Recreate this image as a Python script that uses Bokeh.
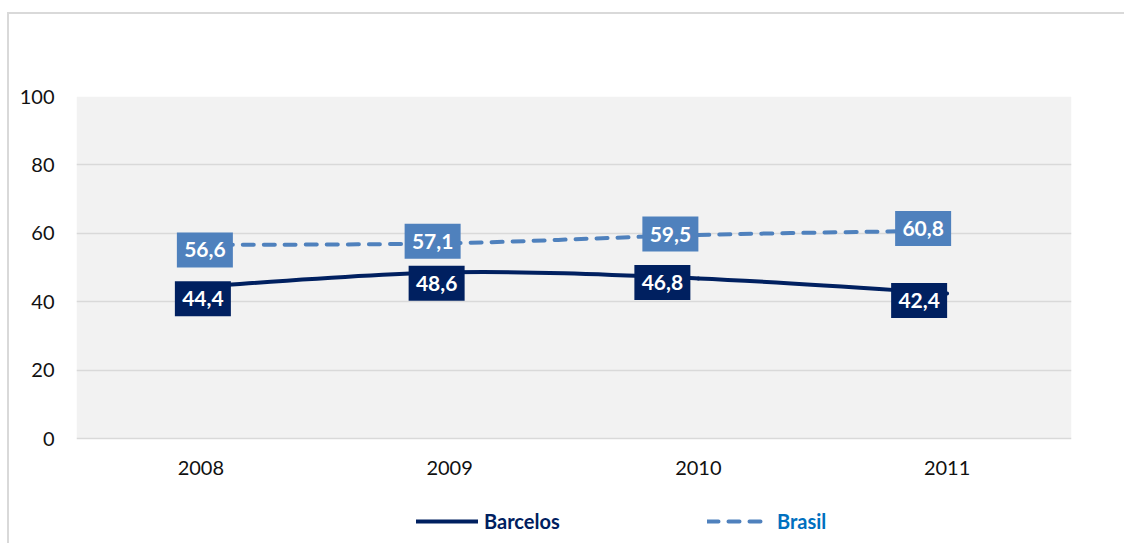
from bokeh.plotting import figure
from bokeh.models import (Range1d, FixedTicker, Legend, LegendItem, ColumnDataSource)
from bokeh.core.properties import value
from bokeh.embed import file_html
from bokeh.resources import INLINE

# ---- data ----
years = ["2008", "2009", "2010", "2011"]
barcelos = [44.4, 48.6, 46.8, 42.4]
brasil = [56.6, 57.1, 59.5, 60.8]
y_ticks = [0, 20, 40, 60, 80, 100]

# ---- styles / layout ----
C_BARC = "#002060"
C_BRAS = "#4F81BD"
C_BRAS_TXT = "#0070C0"
FONT = "Lato"
FRAME_W = 995
PLOT_H = 342          # pixel height of the 0..100 band
FRAME_H = 447         # frame extends down to hold axis labels and legend
px_x = FRAME_W / len(years)
px_y = PLOT_H / 100.0
y_lo = -(FRAME_H - PLOT_H) / px_y
# label offsets in screen px (right, down)
bras_dx = [4, -17, -28, -24]
bras_dy = [5, -2, -1, -2]
barc_dx = [2, -13, -36, -28]
barc_dy = [12, 11, 4, 7]

xs = [i + 0.5 for i in range(len(years))]

p = figure(frame_width=FRAME_W, frame_height=FRAME_H,
           x_range=Range1d(0, len(years)), y_range=Range1d(y_lo, 100),
           output_backend="svg", toolbar_location=None,
           min_border_left=67, min_border_right=53,
           min_border_top=82, min_border_bottom=0)
p.margin = (12, 0, 0, 7)
p.styles = {"border-top": "2px solid #D9D9D9", "border-left": "2px solid #D9D9D9"}
p.background_fill_color = "white"
p.border_fill_color = "white"
p.outline_line_color = None

# gray plot band
p.quad(left=[0], right=[len(years)], bottom=[y_ticks[0]], top=[y_ticks[-1]],
       fill_color="#F2F2F2", line_color=None, level="image")

p.xgrid.grid_line_color = None
p.ygrid.ticker = FixedTicker(ticks=y_ticks)
p.ygrid.grid_line_color = "#D9D9D9"
p.ygrid.grid_line_width = 1.5

p.yaxis.ticker = FixedTicker(ticks=y_ticks)
p.xaxis.ticker = FixedTicker(ticks=xs)
p.xaxis.major_label_overrides = {x: y for x, y in zip(xs, years)}
p.xaxis.fixed_location = 0
for ax in (p.xaxis, p.yaxis):
    ax.axis_line_color = None
    ax.major_tick_line_color = None
    ax.minor_tick_line_color = None
    ax.major_tick_in = 0
    ax.major_tick_out = 0
    ax.major_label_text_font = FONT
    ax.major_label_text_font_size = "20px"
    ax.major_label_text_color = "#111111"
p.yaxis.major_label_standoff = 22
p.xaxis.major_label_standoff = 22


def bezier_segments(xv, yv):
    n = len(xv)
    seg = dict(x0=[], y0=[], x1=[], y1=[], cx0=[], cy0=[], cx1=[], cy1=[])
    for i in range(n - 1):
        ip = max(i - 1, 0)
        i2 = min(i + 2, n - 1)
        seg["x0"].append(xv[i]); seg["y0"].append(yv[i])
        seg["x1"].append(xv[i + 1]); seg["y1"].append(yv[i + 1])
        seg["cx0"].append(xv[i] + (xv[i + 1] - xv[ip]) / 6)
        seg["cy0"].append(yv[i] + (yv[i + 1] - yv[ip]) / 6)
        seg["cx1"].append(xv[i + 1] - (xv[i2] - xv[i]) / 6)
        seg["cy1"].append(yv[i + 1] - (yv[i2] - yv[i]) / 6)
    return ColumnDataSource(seg)


p.bezier(x0="x0", y0="y0", x1="x1", y1="y1", cx0="cx0", cy0="cy0", cx1="cx1", cy1="cy1",
         source=bezier_segments(xs, brasil), line_color=C_BRAS, line_width=4,
         line_dash="11 10", line_cap="round")
p.bezier(x0="x0", y0="y0", x1="x1", y1="y1", cx0="cx0", cy0="cy0", cx1="cx1", cy1="cy1",
         source=bezier_segments(xs, barcelos), line_color=C_BARC, line_width=4,
         line_cap="round")


def labels(vals, dxs, dys, color):
    lx = [x + dx / px_x for x, dx in zip(xs, dxs)]
    ly = [v - dy / px_y for v, dy in zip(vals, dys)]
    txt = [f"{v:.1f}".replace(".", ",") for v in vals]
    src = ColumnDataSource(dict(x=lx, y=ly, t=txt))
    p.rect(x="x", y="y", width=56, height=35, width_units="screen", height_units="screen",
           fill_color=color, line_color=None, source=src)
    p.text(x="x", y="y", text="t", text_align="center", text_baseline="middle",
           text_color="white", text_font=value(FONT), text_font_style="bold",
           text_font_size="21px", source=src)


labels(brasil, bras_dx, bras_dy, C_BRAS)
labels(barcelos, barc_dx, barc_dy, C_BARC)

# legend proxies (placed outside the visible ranges, used only for legend glyphs)
hid_x = [-2, -1]
hid_y = [y_lo - 50, y_lo - 50]
r_barc = p.line(x=hid_x, y=hid_y, line_color=C_BARC, line_width=4, line_cap="round")
r_bras = p.line(x=hid_x, y=hid_y, line_color=C_BRAS, line_width=4, line_dash="11 10",
                line_cap="round")

for r, name, col, loc, gw, st in [(r_barc, "Barcelos", C_BARC, (340, 10), 62, 6),
                                   (r_bras, "Brasil", C_BRAS_TXT, (631, 10), 58, 12)]:
    lg = Legend(items=[LegendItem(label=name, renderers=[r])], location=loc,
                glyph_width=gw, glyph_height=22, label_height=22, label_standoff=st,
                label_text_font=FONT, label_text_font_style="bold",
                label_text_font_size="20px", label_text_color=col,
                padding=0, margin=0, border_line_color=None,
                background_fill_alpha=0)
    p.add_layout(lg, "center")

open("out.html", "w").write(file_html(p, INLINE))
